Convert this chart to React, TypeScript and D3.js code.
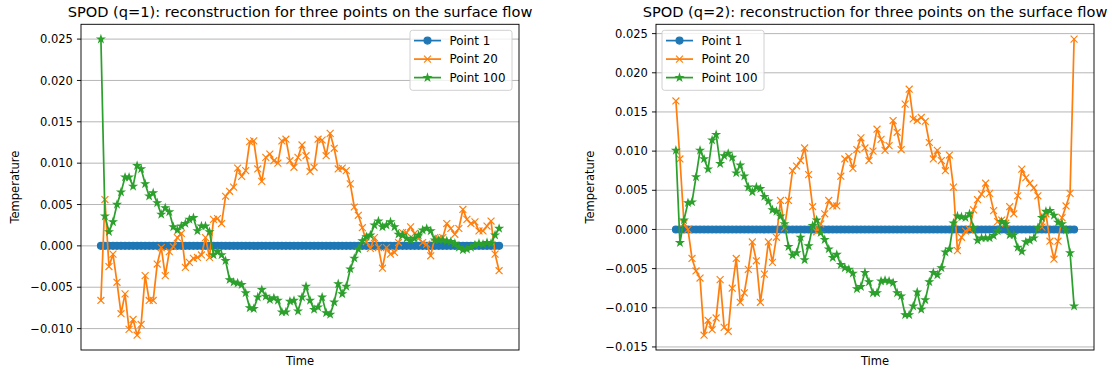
import React from "react";
import * as d3 from "d3";

// ---------- data ----------
const q1Point1 = [
  0, 0, 0, 0, 0, 0, 0, 0, 0, 0, 0, 0, 0, 0, 0, 0, 0, 0, 0, 0,
  0, 0, 0, 0, 0, 0, 0, 0, 0, 0, 0, 0, 0, 0, 0, 0, 0, 0, 0, 0,
  0, 0, 0, 0, 0, 0, 0, 0, 0, 0, 0, 0, 0, 0, 0, 0, 0, 0, 0, 0,
  0, 0, 0, 0, 0, 0, 0, 0, 0, 0, 0, 0, 0, 0, 0, 0, 0, 0, 0, 0,
  0, 0, 0, 0, 0, 0, 0, 0, 0, 0, 0, 0, 0, 0, 0, 0, 0, 0, 0, 0,
];
const q1Point20 = [
  -0.0066, 0.0056, -0.0025, -0.001, -0.0044, -0.0082, -0.0058, -0.0101, -0.0089, -0.0108,
  -0.0095, -0.0036, -0.0066, -0.0066, -0.0022, -0.0002, -0.0036, -0.0007, -0.0001, 0.001,
  0.0015, -0.0026, -0.002, -0.0015, -0.0014, -0.0011, 0.001, -0.0014, 0.0032, 0.0033,
  0.0027, 0.006, 0.0066, 0.0071, 0.0094, 0.0084, 0.0091, 0.0126, 0.0127, 0.0093,
  0.0078, 0.0107, 0.0111, 0.0103, 0.01, 0.0127, 0.0129, 0.0103, 0.0095, 0.0107,
  0.0122, 0.0109, 0.009, 0.0095, 0.0129, 0.0128, 0.0109, 0.0136, 0.0118, 0.0093,
  0.0094, 0.0091, 0.0075, 0.0047, 0.0037, 0.0022, 0.0005, -0.0003, 0.001, -0.0002,
  -0.0027, -0.0002, -0.001, -0.0008, 0.0004, 0.0016, 0.0016, 0.0023, 0.0015, 0.0009,
  0.0004, 0.0002, -0.0012, 0.001, 0.0009, 0.001, 0.0027, 0.0021, 0.0014, 0.0021,
  0.0044, 0.0032, 0.0027, 0.0029, 0.0018, 0.0018, 0.0024, 0.003, -0.001, -0.003,
];
const q1Point100 = [
  0.025, 0.0036, 0.0017, 0.0029, 0.005, 0.0065, 0.0083, 0.0083, 0.0072, 0.0097,
  0.0093, 0.0075, 0.006, 0.0064, 0.0052, 0.0038, 0.0046, 0.0041, 0.0023, 0.0019,
  0.0024, 0.0027, 0.0032, 0.0034, 0.0018, 0.0024, 0.0024, 0.0017, -0.0011, -0.0007,
  -0.0011, -0.0018, -0.0041, -0.0044, -0.0045, -0.0047, -0.0057, -0.0075, -0.0076, -0.0062,
  -0.0053, -0.0061, -0.0065, -0.0063, -0.0066, -0.008, -0.008, -0.0067, -0.0066, -0.0079,
  -0.0062, -0.0049, -0.0066, -0.0077, -0.0074, -0.0062, -0.0081, -0.0083, -0.0068, -0.0046,
  -0.0058, -0.0049, -0.0028, -0.0015, -0.0004, 0.0006, 0.0011, 0.0013, 0.0025, 0.003,
  0.0023, 0.0025, 0.0029, 0.0023, 0.0014, 0.0013, 0.0009, 0.0007, 0.0009, 0.0013,
  0.0019, 0.0021, 0.0018, 0.0007, 0.0007, 0.0007, 0.0006, 0.0005, 0.0003, -0.0002,
  -0.0005, -0.0004, -0.0002, 0.0001, 0.0003, 0.0002, 0.0004, 0.0003, 0.0013, 0.0021,
];

const q2Point1 = [
  0, 0, 0, 0, 0, 0, 0, 0, 0, 0, 0, 0, 0, 0, 0, 0, 0, 0, 0, 0,
  0, 0, 0, 0, 0, 0, 0, 0, 0, 0, 0, 0, 0, 0, 0, 0, 0, 0, 0, 0,
  0, 0, 0, 0, 0, 0, 0, 0, 0, 0, 0, 0, 0, 0, 0, 0, 0, 0, 0, 0,
  0, 0, 0, 0, 0, 0, 0, 0, 0, 0, 0, 0, 0, 0, 0, 0, 0, 0, 0, 0,
  0, 0, 0, 0, 0, 0, 0, 0, 0, 0, 0, 0, 0, 0, 0, 0, 0, 0, 0, 0,
];
const q2Point20 = [
  0.0164, 0.009, 0.0008, 0.0, -0.0037, -0.0053, -0.0062, -0.0135, -0.0116, -0.0128,
  -0.0113, -0.0064, -0.0125, -0.013, -0.0075, -0.0037, -0.0093, -0.0081, -0.0051, -0.0016,
  -0.004, -0.0093, -0.0057, -0.0016, -0.0042, -0.001, 0.0037, 0.0002, 0.0037, 0.0075,
  0.0081, 0.0088, 0.0104, 0.007, 0.0029, -0.0003, 0.0007, 0.002, 0.0037, 0.003,
  0.003, 0.0068, 0.009, 0.0093, 0.0078, 0.0102, 0.0117, 0.0104, 0.0088, 0.01,
  0.0128, 0.0115, 0.0101, 0.0107, 0.0139, 0.0124, 0.0102, 0.016, 0.0179, 0.0141,
  0.0139, 0.0143, 0.0138, 0.0111, 0.009, 0.0101, 0.0088, 0.0075, 0.0095, 0.0054,
  -0.0027, -0.001, -0.0002, 0.0, 0.0025, 0.0038, 0.0045, 0.0059, 0.0046, 0.0024,
  0.001, 0.0012, 0.0008, 0.0029, 0.002, 0.0043, 0.0077, 0.0066, 0.0059, 0.0053,
  0.0043, 0.0003, 0.002, -0.0015, -0.0038, -0.0015, 0.0015, 0.003, 0.0046, 0.0243,
];
const q2Point100 = [
  0.0101, -0.0017, 0.0012, 0.0034, 0.0035, 0.0067, 0.0101, 0.009, 0.0077, 0.0114,
  0.0121, 0.0084, 0.0094, 0.0097, 0.0092, 0.0072, 0.0082, 0.0068, 0.0054, 0.0048,
  0.0054, 0.0052, 0.0042, 0.0036, 0.0025, 0.0023, 0.0017, 0.0007, -0.0022, -0.0033,
  -0.003, -0.001, -0.0039, -0.0021, 0.0005, 0.0012, -0.0004, -0.0013, -0.0025, -0.0036,
  -0.0032, -0.0045, -0.0049, -0.0051, -0.0056, -0.0076, -0.0073, -0.0055, -0.0067, -0.0081,
  -0.0081, -0.0066, -0.0065, -0.0066, -0.0068, -0.0081, -0.0085, -0.0109, -0.0109, -0.0098,
  -0.008, -0.0102, -0.009, -0.0067, -0.0055, -0.0058, -0.0049, -0.0029, -0.0025, 0.0008,
  0.0017, 0.0016, 0.0015, 0.002, 0.0002, -0.0014, -0.0011, -0.0011, -0.0011, -0.0008,
  -0.0002, 0.001, 0.0007, -0.0007, -0.0007, -0.0023, -0.0028, -0.0016, -0.0014, -0.0011,
  0.0002, 0.0015, 0.0023, 0.0024, 0.0018, 0.0009, 0.0007, -0.0001, -0.003, -0.0098,
];

const q1Ticks = [-0.01, -0.005, 0, 0.005, 0.01, 0.015, 0.02, 0.025];
const q2Ticks = [-0.015, -0.01, -0.005, 0, 0.005, 0.01, 0.015, 0.02, 0.025];
const seriesNames = ["Point 1", "Point 20", "Point 100"];
const seriesColors = ["#1f77b4", "#ff7f0e", "#2ca02c"];
const seriesMarkers = ["circle", "x", "star"];
const titles = [
  "SPOD (q=1): reconstruction for three points on the surface flow",
  "SPOD (q=2): reconstruction for three points on the surface flow",
];

// ---------- drawing ----------
const PT = 1.153; // px per point
const FONT = "DejaVu Sans";
const fmt = d3.format(".3f");
const starPath = d3.symbol().type(d3.symbolStar).size((3 * PT) ** 2 / 0.8908130915292852)() as string;

function Marker({ type, color, x, y }: { type: string; color: string; x: number; y: number }) {
  const r = 3 * PT;
  if (type === "circle") {
    return <circle cx={x} cy={y} r={r} fill={color} stroke={color} strokeWidth={PT} />;
  }
  if (type === "x") {
    return (
      <path
        d={`M${x - r},${y - r}L${x + r},${y + r}M${x - r},${y + r}L${x + r},${y - r}`}
        stroke={color}
        strokeWidth={PT}
        fill="none"
      />
    );
  }
  return (
    <path d={starPath} transform={`translate(${x},${y})`} fill={color} stroke={color} strokeWidth={PT} strokeLinejoin="miter" />
  );
}

type PanelProps = {
  axLeft: number;
  axRight: number;
  axTop: number;
  axBottom: number;
  title: string;
  series: number[][];
  ticks: number[];
  legendSide: "left" | "right";
};

function Panel({ axLeft, axRight, axTop, axBottom, title, series, ticks, legendSide }: PanelProps) {
  const n = series[0].length;
  const xs = d3
    .scaleLinear()
    .domain([-(n - 1) * 0.05, (n - 1) * 1.05])
    .range([axLeft, axRight]);
  const all = series.flat();
  const [mn, mx] = d3.extent(all) as [number, number];
  const pad = (mx - mn) * 0.05;
  const ys = d3.scaleLinear().domain([mn - pad, mx + pad]).range([axBottom, axTop]);
  const line = d3
    .line<number>()
    .x((_, i) => xs(i))
    .y((d) => ys(d));
  const clipId = `clip-${axLeft}`;
  const cx = (axLeft + axRight) / 2;
  const cy = (axTop + axBottom) / 2;

  const legW = 102;
  const legH = 60;
  const legX = legendSide === "right" ? axRight - 7 - legW : axLeft + 6;
  const legY = axTop + 6;
  const rows = [10.3, 28.8, 47.3];

  return (
    <g>
      <defs>
        <clipPath id={clipId}>
          <rect x={axLeft} y={axTop} width={axRight - axLeft} height={axBottom - axTop} />
        </clipPath>
      </defs>
      <rect x={axLeft} y={axTop} width={axRight - axLeft} height={axBottom - axTop} fill="#fff" />
      {/* grid */}
      {ticks.map((t) => (
        <line key={`g${t}`} x1={axLeft} x2={axRight} y1={ys(t)} y2={ys(t)} stroke="#b0b0b0" strokeWidth={0.8 * PT} />
      ))}
      {/* series */}
      <g clipPath={`url(#${clipId})`}>
        {series.map((s, k) => (
          <g key={k}>
            <path d={line(s) as string} fill="none" stroke={seriesColors[k]} strokeWidth={1.5 * PT} strokeLinejoin="round" strokeLinecap="square" />
            {s.map((v, i) => (
              <Marker key={i} type={seriesMarkers[k]} color={seriesColors[k]} x={xs(i)} y={ys(v)} />
            ))}
          </g>
        ))}
      </g>
      {/* spines */}
      <rect x={axLeft} y={axTop} width={axRight - axLeft} height={axBottom - axTop} fill="none" stroke="#000" strokeWidth={0.8 * PT} />
      {/* y ticks */}
      {ticks.map((t) => (
        <g key={`t${t}`}>
          <line x1={axLeft - 3.5 * PT} x2={axLeft} y1={ys(t)} y2={ys(t)} stroke="#000" strokeWidth={0.8 * PT} />
          <text x={axLeft - 7 * PT} y={ys(t) + 4.1} textAnchor="end" fontSize={10 * PT} fontFamily={FONT} fill="#000">
            {fmt(t)}
          </text>
        </g>
      ))}
      {/* title & labels */}
      <text x={cx} y={axTop - 7.2} textAnchor="middle" fontSize={14.6} fontFamily={FONT} fill="#000">
        {title}
      </text>
      <text x={cx} y={364.5} textAnchor="middle" fontSize={10 * PT} fontFamily={FONT} fill="#000">
        Time
      </text>
      <text
        transform={`translate(${axLeft - 61.7},${cy}) rotate(-90)`}
        textAnchor="middle"
        fontSize={10 * PT}
        fontFamily={FONT}
        fill="#000"
      >
        Temperature
      </text>
      {/* legend */}
      <g>
        <rect x={legX} y={legY} width={legW} height={legH} rx={2.5} fill="#fff" fillOpacity={0.8} stroke="#cccccc" strokeWidth={0.8 * PT} />
        {seriesNames.map((name, k) => {
          const yy = legY + rows[k];
          return (
            <g key={name}>
              <line x1={legX + 4} x2={legX + 31} y1={yy} y2={yy} stroke={seriesColors[k]} strokeWidth={1.5 * PT} />
              <Marker type={seriesMarkers[k]} color={seriesColors[k]} x={legX + 17.5} y={yy} />
              <text x={legX + 39.5} y={yy + 4.2} fontSize={11.9} fontFamily={FONT} fill="#000">
                {name}
              </text>
            </g>
          );
        })}
      </g>
    </g>
  );
}

export default function App() {
  return (
    <div style={{ position: "absolute", left: 0, top: 0 }}>
      <svg width={1112} height={371} viewBox="0 0 1112 371" style={{ display: "block", background: "#fff" }}>
        <Panel
          axLeft={81}
          axRight={519}
          axTop={24.3}
          axBottom={350}
          title={titles[0]}
          series={[q1Point1, q1Point20, q1Point100]}
          ticks={q1Ticks}
          legendSide="right"
        />
        <Panel
          axLeft={656}
          axRight={1094}
          axTop={24.3}
          axBottom={350}
          title={titles[1]}
          series={[q2Point1, q2Point20, q2Point100]}
          ticks={q2Ticks}
          legendSide="left"
        />
      </svg>
    </div>
  );
}
